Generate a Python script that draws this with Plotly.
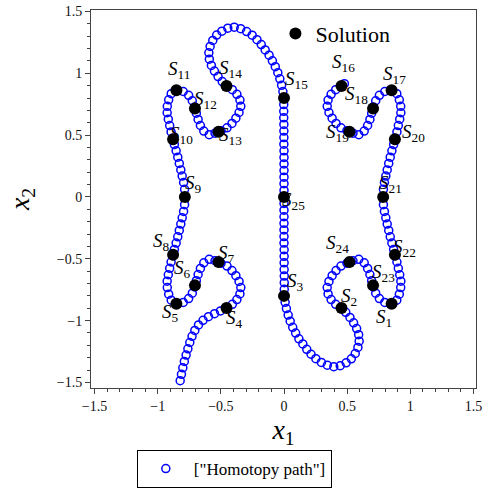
import plotly.graph_objects as go

# ---- Homotopy path, in the order it is traversed ----
# tail entering from the bottom edge up to S4
tail_x = [-0.822, -0.812, -0.801, -0.789, -0.775, -0.761, -0.746, -0.728, -0.706, -0.677,
          -0.641, -0.598, -0.550, -0.503]
tail_y = [-1.486, -1.434, -1.382, -1.330, -1.279, -1.228, -1.177, -1.127, -1.079, -1.035,
          -0.998, -0.968, -0.944, -0.922]

# lower-left lobe: S4 -> S7 -> S6 -> S5 -> S8 -> S9
ll_x = [-0.455, -0.409, -0.373, -0.349, -0.342, -0.356, -0.381, -0.412, -0.451, -0.498,
        -0.546, -0.592, -0.635, -0.662, -0.680, -0.694, -0.707, -0.726, -0.755, -0.798,
        -0.849, -0.893, -0.913, -0.924, -0.925, -0.916, -0.905, -0.894, -0.881, -0.868,
        -0.854, -0.841, -0.829, -0.817, -0.806, -0.795, -0.787, -0.785]
ll_y = [-0.898, -0.868, -0.830, -0.784, -0.733, -0.683, -0.637, -0.595, -0.559, -0.536,
        -0.516, -0.504, -0.533, -0.578, -0.627, -0.677, -0.728, -0.778, -0.822, -0.853,
        -0.863, -0.835, -0.786, -0.733, -0.681, -0.629, -0.577, -0.526, -0.475, -0.424,
        -0.373, -0.322, -0.271, -0.219, -0.169, -0.117, -0.062, 0.000]

# upper-left lobe: S9 -> S10 -> S11 -> S12 -> S13 -> S14
ul_x = [-0.787, -0.795, -0.806, -0.817, -0.829, -0.841, -0.854, -0.868, -0.881, -0.894,
        -0.905, -0.916, -0.925, -0.924, -0.913, -0.893, -0.849, -0.798, -0.755, -0.726,
        -0.707, -0.694, -0.680, -0.662, -0.635, -0.592, -0.546, -0.498, -0.451, -0.412,
        -0.381, -0.356, -0.342, -0.349, -0.373, -0.409, -0.455]
ul_y = [0.062, 0.117, 0.169, 0.219, 0.271, 0.322, 0.373, 0.424, 0.475, 0.526,
        0.577, 0.629, 0.681, 0.733, 0.786, 0.835, 0.863, 0.853, 0.822, 0.778,
        0.728, 0.677, 0.627, 0.578, 0.533, 0.504, 0.516, 0.536, 0.559, 0.595,
        0.637, 0.683, 0.733, 0.784, 0.830, 0.868, 0.898]

# top-left excursion: S14 -> S15
tl_x = [-0.489, -0.522, -0.551, -0.575, -0.591, -0.595, -0.585, -0.564, -0.533, -0.492,
        -0.445, -0.394, -0.343, -0.296, -0.252, -0.214, -0.180, -0.149, -0.118, -0.092,
        -0.069, -0.049, -0.033, -0.019, -0.009, -0.003]
tl_y = [0.933, 0.974, 1.018, 1.064, 1.114, 1.166, 1.217, 1.266, 1.309, 1.341,
        1.365, 1.373, 1.361, 1.338, 1.308, 1.272, 1.232, 1.189, 1.147, 1.101,
        1.054, 1.005, 0.955, 0.903, 0.852, 0.800]

# central stem: S15 -> S25 -> S3
mid_x = [-0.002, -0.002, -0.002, -0.001, -0.001, -0.001, -0.001, 0.000, 0.000, 0.000,
         0.000, 0.000, 0.000, 0.000, 0.000, 0.000, 0.000, 0.000, 0.000, 0.000,
         0.000, 0.000, 0.001, 0.001, 0.001, 0.001, 0.002, 0.002, 0.002, 0.003]
mid_y = [0.747, 0.693, 0.640, 0.587, 0.533, 0.480, 0.427, 0.373, 0.320, 0.267,
         0.213, 0.160, 0.107, 0.053, 0.000, -0.053, -0.107, -0.160, -0.213, -0.267,
         -0.320, -0.373, -0.427, -0.480, -0.533, -0.587, -0.640, -0.693, -0.747, -0.800]

# bottom-right excursion: S3 -> S2
br_x = [0.009, 0.019, 0.033, 0.049, 0.069, 0.092, 0.118, 0.149, 0.180, 0.214,
        0.252, 0.296, 0.343, 0.394, 0.445, 0.492, 0.533, 0.564, 0.585, 0.595,
        0.591, 0.575, 0.551, 0.522, 0.489, 0.455]
br_y = [-0.852, -0.903, -0.955, -1.005, -1.054, -1.101, -1.147, -1.189, -1.232, -1.272,
        -1.308, -1.338, -1.361, -1.373, -1.365, -1.341, -1.309, -1.266, -1.217, -1.166,
        -1.114, -1.064, -1.018, -0.974, -0.933, -0.898]

# lower-right lobe: S2 -> S24 -> S23 -> S1 -> S22 -> S21
lr_x = [0.409, 0.373, 0.349, 0.342, 0.356, 0.381, 0.412, 0.451, 0.498, 0.546,
        0.592, 0.635, 0.662, 0.680, 0.694, 0.707, 0.726, 0.755, 0.798, 0.849,
        0.893, 0.913, 0.924, 0.925, 0.916, 0.905, 0.894, 0.881, 0.868, 0.854,
        0.841, 0.829, 0.817, 0.806, 0.795, 0.787, 0.785]
lr_y = [-0.868, -0.830, -0.784, -0.733, -0.683, -0.637, -0.595, -0.559, -0.536, -0.516,
        -0.504, -0.533, -0.578, -0.627, -0.677, -0.728, -0.778, -0.822, -0.853, -0.863,
        -0.835, -0.786, -0.733, -0.681, -0.629, -0.577, -0.526, -0.475, -0.424, -0.373,
        -0.322, -0.271, -0.219, -0.169, -0.117, -0.062, 0.000]

# upper-right lobe: S21 -> S20 -> S17 -> S18 -> S19 -> S16 (end of path)
ur_x = [0.787, 0.795, 0.806, 0.817, 0.829, 0.841, 0.854, 0.868, 0.881, 0.894,
        0.905, 0.916, 0.925, 0.924, 0.913, 0.893, 0.849, 0.798, 0.755, 0.726,
        0.707, 0.694, 0.680, 0.662, 0.635, 0.592, 0.546, 0.498, 0.451, 0.412,
        0.381, 0.356, 0.342, 0.349, 0.373, 0.409, 0.455, 0.478]
ur_y = [0.062, 0.117, 0.169, 0.219, 0.271, 0.322, 0.373, 0.424, 0.475, 0.526,
        0.577, 0.629, 0.681, 0.733, 0.786, 0.835, 0.863, 0.853, 0.822, 0.778,
        0.728, 0.677, 0.627, 0.578, 0.533, 0.504, 0.516, 0.536, 0.559, 0.595,
        0.637, 0.683, 0.733, 0.784, 0.830, 0.868, 0.898, 0.916]

path_x = tail_x + ll_x + ul_x + tl_x + mid_x + br_x + lr_x + ur_x
path_y = tail_y + ll_y + ul_y + tl_y + mid_y + br_y + lr_y + ur_y

# ---- Solutions S1 ... S25 ----
sol_ids = list(range(1, 26))
sol_x = [0.852, 0.455, 0.000, -0.455, -0.852, -0.705, -0.518, -0.878, -0.785, -0.878,
         -0.852, -0.705, -0.518, -0.455, 0.000, 0.455, 0.852, 0.705, 0.518, 0.878,
         0.785, 0.878, 0.705, 0.518, 0.000]
sol_y = [-0.863, -0.898, -0.800, -0.898, -0.863, -0.715, -0.527, -0.467, 0.000, 0.467,
         0.863, 0.715, 0.527, 0.898, 0.800, 0.898, 0.863, 0.715, 0.527, 0.467,
         0.000, -0.467, -0.715, -0.527, 0.000]

# pixel offset (right, down) of each "S" glyph centre from its dot
label_offsets = [(-9, 15), (7, -10), (10, -13), (6, 12), (-7, 10), (-14, -15), (6, -7),
                 (-13, -12), (7, -12), (4, -3), (-1, -19), (6, -8), (7, 5), (-1, -16),
                 (8, -17), (-2, -22), (-2, -14), (-21, -13), (-16, 2), (14, -5), (3, -12),
                 (5, -6), (6, -11), (-16, -17), (5, 5)]

SERIF = "Liberation Serif, Times New Roman, DejaVu Serif, serif"

fig = go.Figure()
fig.add_trace(go.Scatter(
    x=path_x, y=path_y, mode="markers", name='["Homotopy path"]', legend="legend",
    showlegend=True,
    marker=dict(symbol="circle-open", size=8, color="#0000ff", line=dict(width=1.5)),
))
fig.add_trace(go.Scatter(
    x=sol_x, y=sol_y, mode="markers", name="Solution", legend="legend2",
    showlegend=True,
    marker=dict(symbol="circle", size=12, color="black"),
))

for k, sx, sy, (dx, dy) in zip(sol_ids, sol_x, sol_y, label_offsets):
    fig.add_annotation(
        x=sx, y=sy, xref="x", yref="y", showarrow=False,
        text=f"<i>S</i><sub>{k}</sub>", xanchor="left", yanchor="middle",
        xshift=dx - 9, yshift=-(dy - 1),
        font=dict(family=SERIF, size=19, color="black"),
    )

axis_common = dict(
    showline=True, linecolor="#444", linewidth=1, mirror=True,
    ticks="outside", ticklen=5, tickcolor="#444", tickwidth=1,
    tick0=0, dtick=0.5, showgrid=False, zeroline=False,
    minor=dict(tick0=0, dtick=0.1, ticks="outside", ticklen=3, tickcolor="#444", showgrid=False),
    tickfont=dict(family=SERIF, size=14, color="#111"),
)

fig.update_layout(
    width=483, height=490,
    margin=dict(l=91, r=7, t=10, b=102, autoexpand=False),
    paper_bgcolor="white", plot_bgcolor="white",
    showlegend=True,
    font=dict(family=SERIF),
    xaxis=dict(range=[-1.528, 1.52], **axis_common,
               title=dict(text="<i>x</i><sub>1</sub>", standoff=0,
                          font=dict(family=SERIF, size=28, color="black"))),
    yaxis=dict(range=[-1.545, 1.512], **axis_common,
               title=dict(text="<i>x</i><sub>2</sub>", standoff=18,
                          font=dict(family=SERIF, size=28, color="black"))),
    legend=dict(x=0.119, y=-0.2646, xanchor="left", yanchor="bottom", itemwidth=46,
                bordercolor="black", borderwidth=1, bgcolor="white",
                font=dict(family=SERIF, size=17, color="black")),
    legend2=dict(x=0.479, y=0.937, xanchor="left", yanchor="middle",
                 bgcolor="rgba(0,0,0,0)", borderwidth=0,
                 font=dict(family=SERIF, size=22, color="black")),
)

fig.write_html("out.html")
